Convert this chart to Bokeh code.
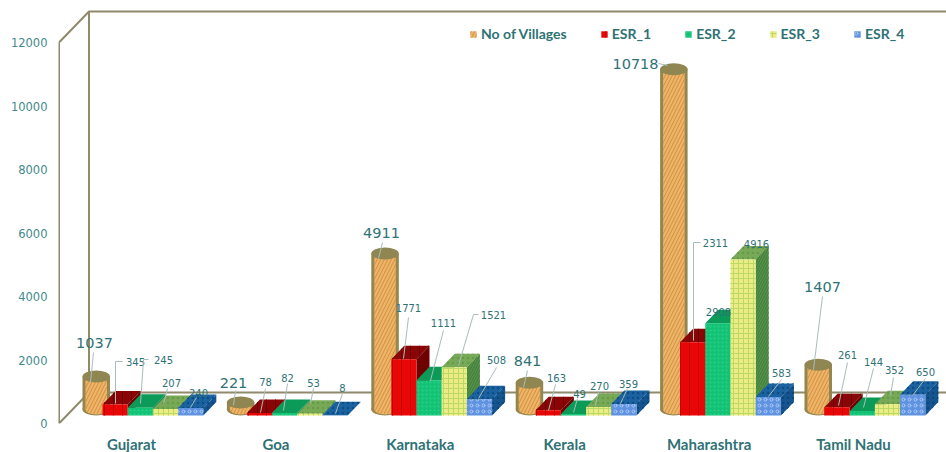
from bokeh.core.properties import value
from bokeh.embed import file_html
from bokeh.models import FixedTicker, Legend, LegendItem, Range1d
from bokeh.plotting import figure
from bokeh.resources import INLINE

# ---- chart values ----
states = ["Gujarat", "Goa", "Karnataka", "Kerala", "Maharashtra", "Tamil Nadu"]
villages = [1037, 221, 4911, 841, 10718, 1407]
esr_1 = [345, 78, 1771, 163, 2311, 261]
esr_2 = [245, 82, 1111, 49, 2908, 144]
esr_3 = [207, 53, 1521, 270, 4916, 352]
esr_4 = [240, 8, 508, 359, 583, 650]
y_ticks = [0, 2000, 4000, 6000, 8000, 10000, 12000]

# ---- page geometry (pixels) ----
WIDTH, HEIGHT = 946, 452
FRAME_LEFT, FRAME_BOTTOM = 58, 423
PX_PER_GROUP = 144.4
PX_PER_UNIT = 0.03175
X_START = -(131 - FRAME_LEFT) / PX_PER_GROUP
X_END = X_START + (WIDTH - FRAME_LEFT) / PX_PER_GROUP
Y_END = FRAME_BOTTOM / PX_PER_UNIT


def hpx(px):
    return px / PX_PER_GROUP


def vpx(px):
    return px / PX_PER_UNIT


def page_x(px):
    return X_START + (px - FRAME_LEFT) / PX_PER_GROUP


def page_y(py):
    return (FRAME_BOTTOM - py) / PX_PER_UNIT


BASE = vpx(8)          # bars stand half way into the floor
DEPTH_X, DEPTH_Y = hpx(13), vpx(13.5)
WALL_X, WALL_Y = hpx(30), vpx(31)
BOX_W = hpx(25.2)
BOX_START = hpx(-29)
CYL_START, CYL_W = hpx(-49), hpx(27.5)
CYL_H = vpx(12)

TEXT = "#2f7275"
TICK_TEXT = "#3f8a8c"
WALL = "#8f8a6c"
LEADER = "#a9bcbc"

p = figure(
    width=WIDTH, height=HEIGHT, output_backend="svg", toolbar_location=None,
    x_range=Range1d(X_START, X_END), y_range=Range1d(0, Y_END),
    frame_width=WIDTH - FRAME_LEFT, frame_height=FRAME_BOTTOM,
    min_border_left=FRAME_LEFT, min_border_right=0, min_border_top=0,
    min_border_bottom=HEIGHT - FRAME_BOTTOM,
    background_fill_color="white", border_fill_color="white",
    outline_line_color=None,
)
p.grid.visible = False

p.yaxis.ticker = FixedTicker(ticks=y_ticks)
p.yaxis.axis_line_color = None
p.yaxis.major_tick_line_color = None
p.yaxis.minor_tick_line_color = None
p.yaxis.major_tick_out = 0
p.yaxis.minor_tick_out = 0
p.yaxis.major_label_standoff = 11
p.yaxis.major_label_text_font = "DejaVu Sans"
p.yaxis.major_label_text_font_size = "11.5px"
p.yaxis.major_label_text_color = TICK_TEXT

p.xaxis.ticker = FixedTicker(ticks=list(range(len(states))))
p.xaxis.major_label_overrides = {i: s for i, s in enumerate(states)}
p.xaxis.axis_line_color = None
p.xaxis.major_tick_line_color = None
p.xaxis.minor_tick_line_color = None
p.xaxis.major_tick_out = 0
p.xaxis.minor_tick_out = 0
p.xaxis.major_label_standoff = 11
p.xaxis.major_label_text_font = "Lato"
p.xaxis.major_label_text_font_style = "bold"
p.xaxis.major_label_text_font_size = "15px"
p.xaxis.major_label_text_color = TEXT

# ---- box walls: front edge, back edge, diagonals and floor ----
top_value = y_ticks[-1]
left, back = X_START + hpx(0.5), X_START + WALL_X + hpx(0.5)
wall_style = dict(line_color=WALL, line_width=2)
p.line([left, left], [0, top_value], **wall_style)
p.line([back, back], [WALL_Y, top_value + WALL_Y], **wall_style)
p.line([left, back, X_END], [top_value, top_value + WALL_Y, top_value + WALL_Y], **wall_style)
p.line([left, back, X_END], [0, WALL_Y, WALL_Y], **wall_style)

# ---- bar styles ----
box_series = [
    dict(values=esr_1, front="#e90606", front_hatch=dict(hatch_pattern="vertical_line", hatch_color="#c40000", hatch_scale=9, hatch_weight=1),
         top="#8a0606", top_hatch=dict(hatch_pattern="vertical_line", hatch_color="#6d0000", hatch_scale=9, hatch_weight=1),
         side="#6e0202", side_hatch=dict()),
    dict(values=esr_2, front="#12c274", front_hatch=dict(hatch_pattern="dot", hatch_color="#2bd088", hatch_scale=4, hatch_weight=1),
         top="#0b9a57", top_hatch=dict(),
         side="#08854a", side_hatch=dict()),
    dict(values=esr_3, front="#ecec84", front_hatch=dict(hatch_pattern="cross", hatch_color="#bcd866", hatch_scale=5, hatch_weight=1),
         top="#78a956", top_hatch=dict(hatch_pattern="dot", hatch_color="#659a46", hatch_scale=5, hatch_weight=1),
         side="#54914a", side_hatch=dict(hatch_pattern="right_diagonal_line", hatch_color="#3f7d38", hatch_scale=5, hatch_weight=1)),
    dict(values=esr_4, front="#5f92e0", front_hatch=dict(hatch_pattern="ring", hatch_color="#a9c8f2", hatch_scale=6, hatch_weight=1),
         top="#1a62a0", top_hatch=dict(hatch_pattern="dot", hatch_color="#0f4c86", hatch_scale=5, hatch_weight=1),
         side="#14558f", side_hatch=dict(hatch_pattern="dot", hatch_color="#0d4478", hatch_scale=5, hatch_weight=1)),
]
series_names = ["ESR_1", "ESR_2", "ESR_3", "ESR_4"]
legend_swatches = {}

# Painted left to right so each bar overlaps the side face of its neighbour.
for g in range(len(states)):
    # Cylinder for the number of villages
    x0 = g + CYL_START
    x1 = x0 + CYL_W
    xc = (x0 + x1) / 2
    low = BASE + CYL_H / 2
    high = low + villages[g]
    p.ellipse([xc], [low], width=CYL_W, height=CYL_H, fill_color="#93864f", line_color=None)
    p.quad(left=x0, right=x1, bottom=low, top=high, fill_color="#93864f", line_color=None)
    p.ellipse([xc], [low], width=CYL_W - hpx(6), height=CYL_H - vpx(2), fill_color="#eeb468", line_color=None,
              hatch_pattern="right_diagonal_line", hatch_color="#cf8f3f", hatch_scale=7, hatch_weight=1)
    body = p.quad(left=x0 + hpx(3), right=x1 - hpx(3), bottom=low, top=high, fill_color="#eeb468", line_color=None,
                  hatch_pattern="right_diagonal_line", hatch_color="#cf8f3f", hatch_scale=7, hatch_weight=1)
    legend_swatches.setdefault("No of Villages", body)
    p.ellipse([xc], [high], width=CYL_W, height=CYL_H, fill_color="#8f8652", line_color=None)

    # Four boxes, one per ESR count
    for s, style in enumerate(box_series):
        v = style["values"][g]
        bx0 = g + BOX_START + s * BOX_W
        bx1 = bx0 + BOX_W
        by0 = BASE
        by1 = BASE + v
        p.patch([bx0, bx1, bx1 + DEPTH_X, bx0 + DEPTH_X], [by1, by1, by1 + DEPTH_Y, by1 + DEPTH_Y],
                fill_color=style["top"], line_color=None, **style["top_hatch"])
        p.patch([bx1, bx1 + DEPTH_X, bx1 + DEPTH_X, bx1], [by0, by0 + DEPTH_Y, by1 + DEPTH_Y, by1],
                fill_color=style["side"], line_color=None, **style["side_hatch"])
        front = p.quad(left=bx0, right=bx1, bottom=by0, top=by1, fill_color=style["front"], line_color=None,
                       **style["front_hatch"])
        legend_swatches.setdefault(series_names[s], front)

# ---- value callouts: label centre, then the leader's points, in page pixels ----
callouts = [
    [  # Gujarat
        ((94, 342), [(93, 352), (90, 382)]),
        ((135, 361), [(122, 361), (115, 361), (115, 403)]),
        ((163, 359), [(148, 359), (143, 359), (140, 403)]),
        ((171, 382), [(167, 388), (163, 403)]),
        ((198, 392), [(196, 397), (190, 407)]),
    ],
    [  # Goa
        ((233, 382), [(235, 390), (233, 405)]),
        ((265, 381), [(265, 388), (260, 412)]),
        ((287, 377), [(287, 383), (283, 410)]),
        ((313, 382), [(313, 388), (310, 403)]),
        ((342, 387), [(342, 393), (335, 413)]),
    ],
    [  # Karnataka
        ((381, 232), [(382, 242), (378, 258)]),
        ((408, 307), [(408, 317), (403, 358)]),
        ((443, 322), [(443, 330), (430, 380)]),
        ((493, 314), [(478, 314), (473, 314), (458, 365)]),
        ((496, 359), [(496, 367), (478, 398)]),
    ],
    [  # Kerala
        ((527, 360), [(527, 370), (523, 387)]),
        ((556, 377), [(555, 384), (548, 410)]),
        ((579, 393), [(577, 398), (573, 412)]),
        ((599, 385), [(598, 391), (595, 405)]),
        ((628, 383), [(627, 388), (620, 403)]),
    ],
    [  # Maharashtra
        ((635, 63), [(658, 63), (667, 65)]),
        ((715, 242), [(700, 242), (693, 242), (693, 340)]),
        ((718, 311), []),
        ((756, 243), []),
        ((781, 372), [(781, 379), (768, 396)]),
    ],
    [  # Tamil Nadu
        ((822, 286), [(822, 296), (813, 369)]),
        ((847, 354), [(847, 362), (838, 405)]),
        ((873, 361), [(873, 368), (863, 407)]),
        ((894, 369), [(893, 377), (890, 395)]),
        ((925, 371), [(925, 378), (912, 395)]),
    ],
]

all_series = [villages, esr_1, esr_2, esr_3, esr_4]
for g, group in enumerate(callouts):
    for s, ((cx, cy), leader) in enumerate(group):
        if leader:
            p.line([page_x(a) for a, _ in leader], [page_y(b) for _, b in leader],
                   line_color=LEADER, line_width=1)
        p.text([page_x(cx)], [page_y(cy)], text=[str(all_series[s][g])],
               text_align="center", text_baseline="middle",
               text_font=value("DejaVu Sans"),
               text_font_size="14.5px" if s == 0 else "10px",
               text_color=TEXT)

# ---- legend ----
legend = Legend(
    items=[LegendItem(label=k, renderers=[r]) for k, r in legend_swatches.items()],
    orientation="horizontal", location=(469 - FRAME_LEFT, FRAME_BOTTOM - 42),
    glyph_width=8, glyph_height=8, label_standoff=4, spacing=33,
    padding=0, margin=0, border_line_color=None, background_fill_alpha=0,
    label_text_font="Lato", label_text_font_style="bold", label_text_font_size="14px",
    label_text_color=TEXT,
)
p.add_layout(legend, "center")

open("out.html", "w").write(file_html(p, INLINE))
